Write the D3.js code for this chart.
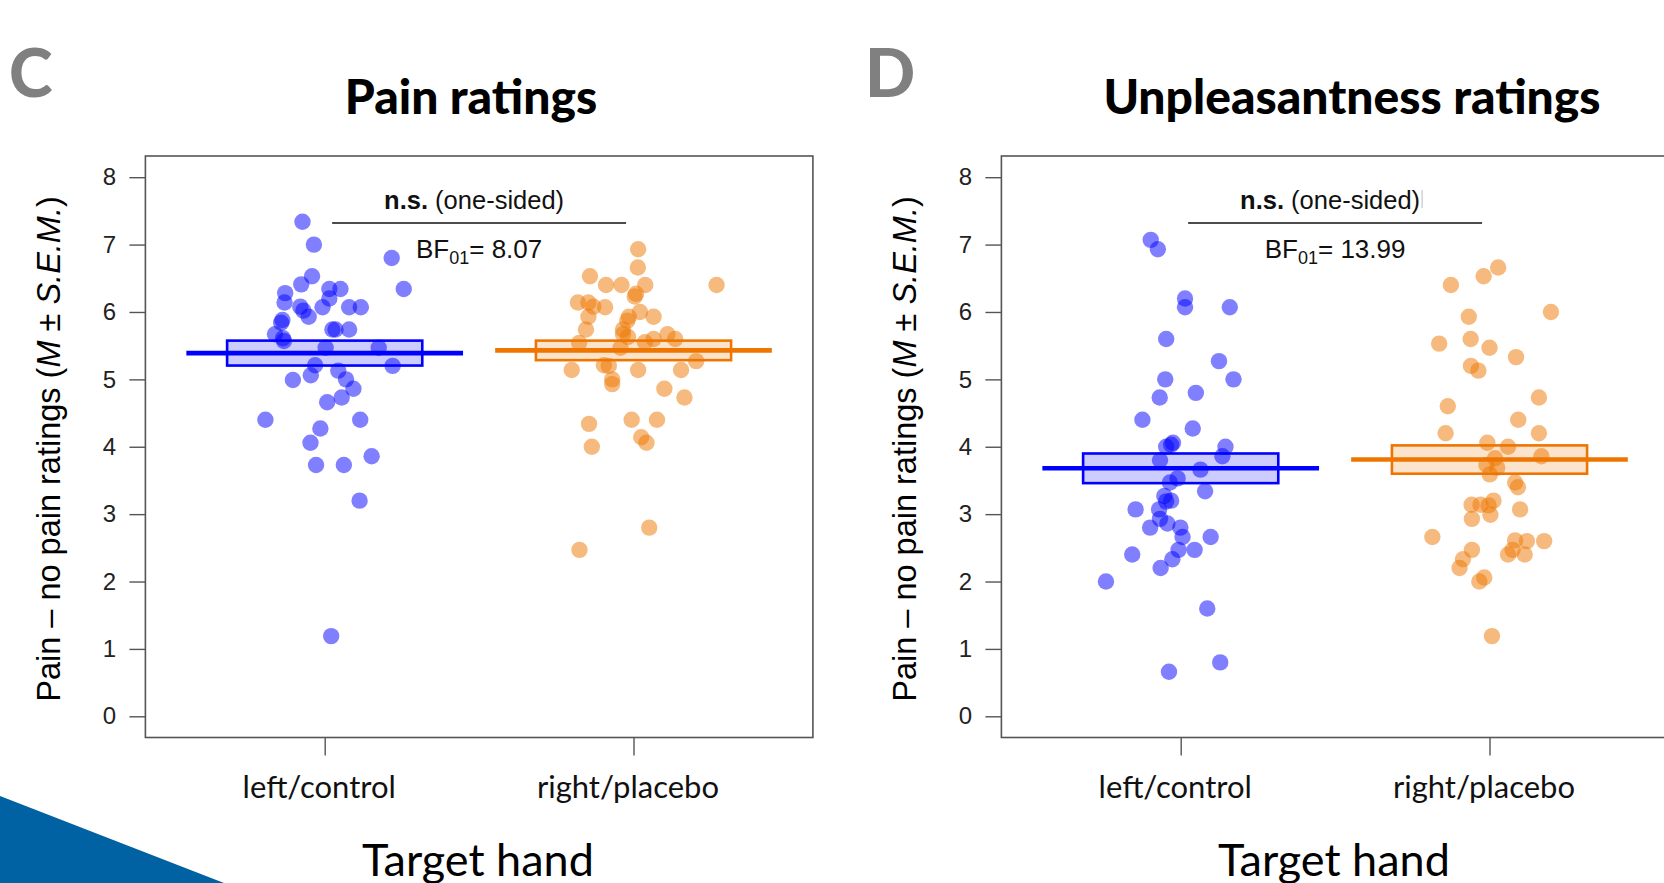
<!DOCTYPE html>
<html>
<head>
<meta charset="utf-8">
<script src="https://cdn.jsdelivr.net/npm/d3@7"></script>
<style>
  body { margin: 0; background: #fff; }
  svg { display: block; }
  .sans { font-family: "Liberation Sans", Arial, sans-serif; }
  .ss { font-family: Lato, "Noto Sans", sans-serif; }
</style>
</head>
<body>
<svg id="chart" width="1664" height="883"></svg>
<script>
// categories and tick labels
const groups = ["left/control", "right/placebo"]
const yTicks = [0, 1, 2, 3, 4, 5, 6, 7, 8]

// panel C: pain ratings (value, horizontal jitter in category units)
const painLeft = [7.34, 7.00, 6.80, 6.53, 6.41, 6.28, 6.34, 6.34, 6.34, 6.14, 6.20, 6.08, 6.02, 5.93, 6.07, 6.07, 6.07,
  5.88, 5.84, 5.74, 5.74, 5.74, 5.67, 5.61, 5.57, 5.47, 5.47, 5.21, 5.20, 5.13, 4.99, 5.06, 5.00, 4.86, 4.73, 4.66,
  4.40, 4.40, 4.27, 4.06, 3.86, 3.73, 3.73, 3.20, 1.19]
const painLeftJit = [-0.072, -0.035, 0.217, -0.041, -0.076, -0.128, 0.015, 0.051, 0.256, -0.130, 0.015, -0.079, -0.069, -0.052, -0.007, 0.079, 0.117,
  -0.137, -0.141, 0.025, 0.035, 0.079, -0.161, -0.135, -0.132, 0.003, 0.175, -0.031, 0.220, 0.044, -0.103, -0.045, 0.069, 0.093, 0.055, 0.008,
  -0.192, 0.115, -0.014, -0.046, 0.152, -0.028, 0.062, 0.113, 0.021]
const painRight = [6.93, 6.66, 6.53, 6.40, 6.40, 6.40, 6.40, 6.23, 6.27, 6.14, 6.14, 6.08, 6.07, 6.00, 5.93, 5.93, 5.93, 5.87,
  5.74, 5.74, 5.67, 5.63, 5.67, 5.54, 5.60, 5.60, 5.55, 5.47, 5.21, 5.20, 5.27, 5.14, 5.14, 5.14, 5.00, 4.93, 4.86, 4.73,
  4.34, 4.40, 4.40, 4.14, 4.06, 4.00, 2.80, 2.47]
const painRightJit = [0.015, 0.014, -0.141, -0.089, -0.039, 0.038, 0.269, 0.004, 0.008, -0.180, -0.146, -0.130, -0.092, 0.021, -0.146, -0.015, 0.065, -0.020,
  -0.154, -0.034, -0.034, -0.018, 0.110, -0.176, 0.065, 0.135, 0.037, -0.042, -0.096, -0.080, 0.203, -0.200, 0.015, 0.154, -0.069, -0.069, 0.100, 0.165,
  -0.144, -0.006, 0.076, 0.025, 0.042, -0.135, 0.051, -0.175]
const painMean = [5.39, 5.43]
const painSem = [0.185, 0.145]

// panel D: unpleasantness ratings
const unplLeft = [7.07, 6.93, 6.20, 6.07, 6.07, 5.60, 5.27, 5.00, 5.00, 4.73, 4.80, 4.40, 4.27, 4.06, 4.03, 4.00, 4.00, 3.86,
  3.80, 3.66, 3.53, 3.47, 3.34, 3.27, 3.20, 3.19, 3.07, 3.07, 2.93, 2.86, 2.80, 2.80, 2.66, 2.66, 2.47, 2.47, 2.40, 2.33,
  2.20, 2.00, 1.60, 0.80, 0.66]
const unplLeftJit = [-0.097, -0.074, 0.014, 0.014, 0.159, -0.047, 0.124, -0.050, 0.171, -0.068, 0.049, -0.124, 0.039, -0.025, -0.031, -0.047, 0.145, 0.135,
  -0.067, 0.064, -0.010, -0.035, 0.079, -0.053, -0.031, -0.047, -0.146, -0.070, -0.067, -0.043, -0.099, -0.001, 0.006, 0.097, -0.007, 0.045, -0.157, -0.027,
  -0.065, -0.242, 0.086, 0.128, -0.038]
const unplRight = [6.66, 6.53, 6.40, 6.00, 5.93, 5.53, 5.60, 5.47, 5.33, 5.20, 5.13, 4.73, 4.60, 4.40, 4.20, 4.20, 4.06, 4.00,
  3.86, 3.83, 3.73, 3.69, 3.59, 3.47, 3.40, 3.20, 3.14, 3.14, 3.13, 3.07, 2.99, 2.93, 2.66, 2.61, 2.60, 2.60, 2.47, 2.47,
  2.40, 2.40, 2.33, 2.20, 2.06, 2.00, 1.19]
const unplRightJit = [0.028, -0.019, -0.125, 0.199, -0.067, -0.163, -0.061, 0.000, 0.086, -0.060, -0.036, 0.160, -0.135, 0.093, -0.142, 0.160, -0.007, 0.060,
  0.168, 0.018, -0.010, 0.025, 0.001, 0.083, 0.092, 0.013, -0.058, -0.029, -0.003, 0.099, 0.003, -0.057, -0.185, 0.083, 0.121, 0.177, -0.057, 0.075,
  0.060, 0.114, -0.086, -0.097, -0.017, -0.033, 0.008]
const unplMean = [3.68, 3.81]
const unplSem = [0.22, 0.21]

const panels = [
  { letter: "C", title: "Pain ratings", dx: 0, titleX: 471,
    pts: [[painLeft, painLeftJit], [painRight, painRightJit]], mean: painMean, sem: painSem,
    bf: "8.07" },
  { letter: "D", title: "Unpleasantness ratings", dx: 856, titleX: 1352 - 856,
    pts: [[unplLeft, unplLeftJit], [unplRight, unplRightJit]], mean: unplMean, sem: unplSem,
    bf: "13.99", mark: true }
]

const colors = ["#0000ff", "#ee7600"]
const box = { left: 145.4, right: 812.9, top: 156, bottom: 737.5 }

const x = d3.scaleLinear().domain([1, 2]).range([324.7, 633.5])
const y = d3.scaleLinear().domain([0, 8]).range([716.3, 177.2])

const svg = d3.select("#chart")

// blue corner decoration
svg.append("path")
  .attr("d", "M0,796L224,883L0,883Z")
  .attr("fill", "#0061a3")

panels.forEach(function(p) {
  const g = svg.append("g").attr("transform", "translate(" + p.dx + ",0)")

  g.append("text").attr("class", "ss")
    .attr("x", 9).attr("y", 97)
    .attr("font-size", 66).attr("font-weight", 900).attr("fill", "#808080")
    .text(p.letter)

  g.append("text").attr("class", "ss")
    .attr("x", p.titleX).attr("y", 114)
    .attr("text-anchor", "middle")
    .attr("font-size", 48).attr("font-weight", 900)
    .text(p.title)

  // points
  p.pts.forEach(function(s, i) {
    g.append("g").selectAll("circle")
      .data(s[0])
      .join("circle")
      .attr("cx", function(d, k) { return x(i + 1 + s[1][k]) })
      .attr("cy", function(d) { return y(d) })
      .attr("r", 8.2)
      .attr("fill", colors[i])
      .attr("fill-opacity", 0.5)
  })

  // mean +- sem boxes and mean lines
  const groupIdx = [0, 1]
  g.append("g").selectAll("rect")
    .data(groupIdx)
    .join("rect")
    .attr("x", function(i) { return x(i + 1 - 0.316) })
    .attr("width", function() { return x(1.316) - x(0.684) })
    .attr("y", function(i) { return y(p.mean[i] + p.sem[i]) })
    .attr("height", function(i) { return y(p.mean[i] - p.sem[i]) - y(p.mean[i] + p.sem[i]) })
    .attr("fill", function(i) { return colors[i] })
    .attr("fill-opacity", 0.2)
    .attr("stroke", function(i) { return colors[i] })
    .attr("stroke-width", 2.6)

  g.append("g").selectAll("line")
    .data(groupIdx)
    .join("line")
    .attr("x1", function(i) { return x(i + 1 - 0.448) })
    .attr("x2", function(i) { return x(i + 1 + 0.448) })
    .attr("y1", function(i) { return y(p.mean[i]) })
    .attr("y2", function(i) { return y(p.mean[i]) })
    .attr("stroke", function(i) { return colors[i] })
    .attr("stroke-width", 4.6)

  // frame
  g.append("rect")
    .attr("x", box.left).attr("y", box.top)
    .attr("width", box.right - box.left).attr("height", box.bottom - box.top)
    .attr("fill", "none").attr("stroke", "#555").attr("stroke-width", 1.6)

  // y axis
  const ya = g.append("g").attr("class", "sans")
    .attr("transform", "translate(" + box.left + ",0)")
    .call(d3.axisLeft(y).tickValues(yTicks).tickSize(16).tickPadding(18))
  ya.select(".domain").remove()
  ya.selectAll(".tick line").attr("stroke", "#555").attr("stroke-width", 1.4)
  ya.selectAll(".tick text").attr("font-size", 24).attr("fill", "#222")
    .attr("text-anchor", "middle").attr("x", -36)

  // x axis
  const xa = g.append("g")
    .attr("transform", "translate(0," + box.bottom + ")")
    .call(d3.axisBottom(x).tickValues([1, 2]).tickSize(18)
      .tickFormat(function(d) { return groups[d - 1] }))
  xa.select(".domain").remove()
  xa.selectAll(".tick line").attr("stroke", "#555").attr("stroke-width", 1.4)
  xa.selectAll(".tick text").attr("class", "ss")
    .attr("font-size", 31).attr("fill", "#111")
    .attr("y", 60).attr("dy", 0).attr("dx", -6)

  g.append("text").attr("class", "ss")
    .attr("x", 478).attr("y", 876)
    .attr("text-anchor", "middle").attr("font-size", 45)
    .text("Target hand")

  // y axis title
  const yt = g.append("text").attr("class", "sans")
    .attr("transform", "translate(60,449) rotate(-90)")
    .attr("text-anchor", "middle").attr("font-size", 32.5)
  yt.append("tspan").text("Pain \u2013 no pain ratings (")
  yt.append("tspan").attr("font-style", "italic").text("M")
  yt.append("tspan").text(" \u00b1 ")
  yt.append("tspan").attr("font-style", "italic").text("S.E.M.")
  yt.append("tspan").text(")")

  // significance annotation
  const mid = x(1.5)
  const ns = g.append("text").attr("class", "sans")
    .attr("x", mid - 5).attr("y", 209)
    .attr("text-anchor", "middle").attr("font-size", 25.5).attr("fill", "#111")
  ns.append("tspan").attr("font-weight", "bold").text("n.s.")
  ns.append("tspan").text(" (one-sided)")
  if (p.mark) {
    g.append("line")
      .attr("x1", mid + 87).attr("x2", mid + 87)
      .attr("y1", 190).attr("y2", 208)
      .attr("stroke", "#bbb").attr("stroke-width", 1)
  }
  g.append("line")
    .attr("x1", x(1.024)).attr("x2", x(1.976))
    .attr("y1", 223).attr("y2", 223)
    .attr("stroke", "#111").attr("stroke-width", 1.3)

  const bf = g.append("text").attr("class", "sans")
    .attr("x", mid).attr("y", 258)
    .attr("text-anchor", "middle").attr("font-size", 26).attr("fill", "#111")
  bf.append("tspan").text("BF")
  bf.append("tspan").attr("font-size", 18).attr("dy", 6).text("01")
  bf.append("tspan").attr("dy", -6).text("= " + p.bf)
})
</script>
</body>
</html>
